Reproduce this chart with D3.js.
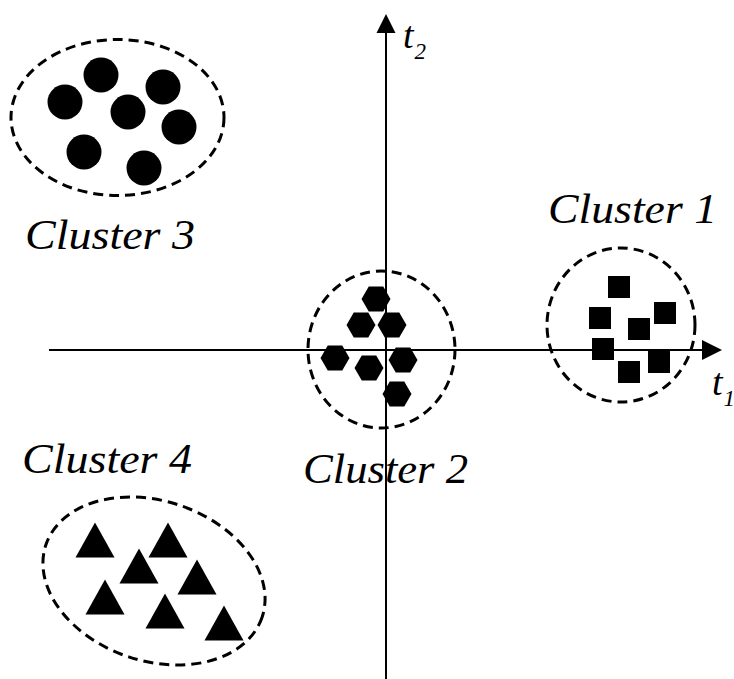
<!DOCTYPE html>
<html>
<head>
<meta charset="utf-8">
<script src="https://cdn.jsdelivr.net/npm/d3@7"></script>
<style>
  html, body { margin: 0; padding: 0; background: #fff; }
  svg { display: block; }
</style>
</head>
<body>
<svg id="chart" width="734" height="679"></svg>
<script>
// ---- data (t1, t2 units; origin = axis crossing) ----
const cluster1Squares = [[23.3, 6.3], [21.4, 3.2], [27.9, 3.7], [25.3, 2.1], [21.7, 0.1], [27.3, -1.2], [24.3, -2.2]];
const cluster2Hexagons = [[-1.0, 5.1], [-2.5, 2.5], [0.6, 2.5], [-5.1, -0.8], [-1.7, -1.8], [1.7, -1.0], [1.1, -4.4]];
const cluster3Circles = [[-28.5, 27.5], [-32.1, 24.8], [-22.3, 26.3], [-25.8, 23.8], [-20.7, 22.3], [-30.2, 19.8], [-24.2, 18.2]];
const cluster4Triangles = [[-29.1, -19.0], [-21.8, -19.0], [-24.7, -21.6], [-18.9, -22.7], [-28.1, -24.7], [-22.1, -26.1], [-16.2, -27.3]];
// cluster boundaries: [cx, cy, rx, ry, rotation deg]
const clusterNames = ["Cluster 1", "Cluster 2", "Cluster 3", "Cluster 4"];
const clusterEllipses = [[23.5, 2.5, 7.4, 7.7, 0], [-0.45, 0.05, 7.35, 7.85, 0], [-26.85, 23.25, 10.65, 7.8, 0], [-23.2, -23.1, 11.4, 8.0, 18.4]];
const clusterLabelPos = [[16.2, 12.7], [-8.3, -13.3], [-36.1, 10.1], [-36.4, -12.3]];
const axisExtent = { t1: [-33.7, 31.6], t2: [-33.2, 31.7] };
const axisNames = [["t", "1"], ["t", "2"]];

// ---- scales ----
const x = d3.scaleLinear().domain([-34, 34]).range([46, 726]);
const y = d3.scaleLinear().domain([-33, 34]).range([680, 10]);

const svg = d3.select("#chart");
const FONT = "Liberation Serif, DejaVu Serif, serif";

// ---- axes ----
const line = d3.line().x(d => x(d[0])).y(d => y(d[1]));
svg.append("path").attr("d", line([[axisExtent.t1[0], 0], [axisExtent.t1[1], 0]]))
  .attr("stroke", "#000").attr("stroke-width", 2).attr("fill", "none");
svg.append("path").attr("d", line([[0, axisExtent.t2[0]], [0, axisExtent.t2[1]]]))
  .attr("stroke", "#000").attr("stroke-width", 2).attr("fill", "none");

// arrowheads
const ax = x(axisExtent.t1[1]), ay = y(0);
svg.append("path").attr("d", `M${ax},${ay - 10}L${ax + 20},${ay}L${ax},${ay + 10}Z`).attr("fill", "#000");
const vx = x(0), vy = y(axisExtent.t2[1]);
svg.append("path").attr("d", `M${vx - 9.5},${vy}L${vx},${vy - 19}L${vx + 9.5},${vy}Z`).attr("fill", "#000");

// axis labels
function axisLabel(px, py, name) {
  const t = svg.append("text").attr("x", px).attr("y", py)
    .style("font-family", FONT).style("font-style", "italic").style("font-size", "38px");
  t.append("tspan").text(name[0]);
  t.append("tspan").style("font-size", "23px").attr("dy", 11).attr("dx", 1).text(name[1]);
}
axisLabel(x(32.6), y(-4.5), axisNames[0]);
axisLabel(x(1.7), y(30.2), axisNames[1]);

// ---- cluster boundaries ----
svg.selectAll("ellipse.cl").data(clusterEllipses).enter().append("ellipse")
  .attr("class", "cl")
  .attr("cx", 0).attr("cy", 0)
  .attr("rx", d => x(d[2]) - x(0))
  .attr("ry", d => y(0) - y(d[3]))
  .attr("transform", d => `translate(${x(d[0])},${y(d[1])}) rotate(${d[4]})`)
  .attr("fill", "none").attr("stroke", "#000").attr("stroke-width", 3)
  .attr("stroke-dasharray", "10,6");

// ---- markers ----
svg.selectAll("rect.sq").data(cluster1Squares).enter().append("rect")
  .attr("class", "sq")
  .attr("x", d => x(d[0]) - 11).attr("y", d => y(d[1]) - 11)
  .attr("width", 22).attr("height", 22).attr("fill", "#000");

const hexR = 14.5;
const hexPts = d3.range(6).map(i => [hexR * Math.cos(i * Math.PI / 3), hexR * Math.sin(i * Math.PI / 3)]);
svg.selectAll("path.hex").data(cluster2Hexagons).enter().append("path")
  .attr("class", "hex")
  .attr("d", "M" + hexPts.map(p => p.join(",")).join("L") + "Z")
  .attr("transform", d => `translate(${x(d[0])},${y(d[1])})`)
  .attr("fill", "#000");

svg.selectAll("circle.dot").data(cluster3Circles).enter().append("circle")
  .attr("class", "dot")
  .attr("cx", d => x(d[0])).attr("cy", d => y(d[1])).attr("r", 17.5)
  .attr("fill", "#000");

svg.selectAll("path.tri").data(cluster4Triangles).enter().append("path")
  .attr("class", "tri")
  .attr("d", "M0,-17.5L19.5,17.5L-19.5,17.5Z")
  .attr("transform", d => `translate(${x(d[0])},${y(d[1])})`)
  .attr("fill", "#000");

// ---- cluster labels ----
svg.selectAll("text.cname").data(clusterNames).enter().append("text")
  .attr("class", "cname")
  .attr("x", (d, i) => x(clusterLabelPos[i][0]))
  .attr("y", (d, i) => y(clusterLabelPos[i][1]))
  .style("font-family", FONT)
  .style("font-style", "italic")
  .style("font-size", "42px")
  .attr("textLength", (d, i) => [169, 165, 170, 170][i])
  .attr("lengthAdjust", "spacingAndGlyphs")
  .text(d => d);
</script>
</body>
</html>
